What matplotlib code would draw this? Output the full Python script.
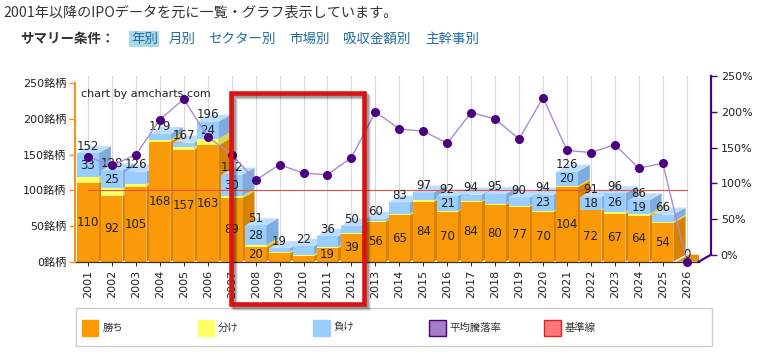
import matplotlib
matplotlib.use("Agg")
import matplotlib.pyplot as plt
from matplotlib.patches import Polygon, Rectangle
from matplotlib.lines import Line2D

# ---------------- data ----------------
years = ["2001", "2002", "2003", "2004", "2005", "2006", "2007", "2008", "2009",
         "2010", "2011", "2012", "2013", "2014", "2015", "2016", "2017", "2018",
         "2019", "2020", "2021", "2022", "2023", "2024", "2025", "2026"]
win = [110, 92, 105, 168, 157, 163, 89, 20, 12, 8, 19, 39, 56, 65, 84, 70, 84,
       80, 77, 70, 104, 72, 67, 64, 54, 0]
draw = [9, 11, 4, 3, 4, 9, 3, 3, 2, 2, 2, 1, 1, 2, 2, 1, 1, 1, 1, 1, 2, 1, 3, 3, 2, 0]
lose = [33, 25, 17, 8, 6, 24, 30, 28, 5, 12, 15, 10, 3, 16, 11, 21, 9, 14, 12,
        23, 20, 18, 26, 19, 10, 0]
avg_return = [147, 135, 150, 199, 228, 175, 150, 114, 136, 124, 122, 146, 210,
              186, 183, 166, 209, 200, 172, 230, 156, 153, 164, 131, 138, 0]
baseline = 100
left_ticks = [0, 50, 100, 150, 200, 250]
legend_labels = ["勝ち", "分け", "負け", "平均騰落率", "基準線"]
header = "2001年以降のIPOデータを元に一覧・グラフ表示しています。"
cond_label = "サマリー条件："
cond_links = ["年別", "月別", "セクター別", "市場別", "吸収金額別", "主幹事別"]

# ---------------- style ----------------
plt.rcParams["font.family"] = ["DejaVu Sans", "Noto Sans CJK JP"]
JP = ["Noto Sans CJK JP", "DejaVu Sans"]

W, H = 773, 356
fig = plt.figure(figsize=(W / 100, H / 100), dpi=100)
fig.patch.set_facecolor("white")


def fx(x):
    return x / W


def fy(y):
    return 1 - y / H


# front plane geometry (pixels)
L, R, B, T = 76, 698.7, 261.7, 83.3
DXP, DYP = 12.3, 7.0
ax = fig.add_axes([fx(L), fy(B), (R - L) / W, (B - T) / H])
n = len(years)
ax.set_xlim(-0.5, n - 0.5)
ax.set_ylim(0, 250)
ax.patch.set_alpha(0)

ppc = (R - L) / n
ppu = (B - T) / 250
DX = DXP / ppc
DY = DYP / ppu
bw = 0.88

# vertical grid on back wall
for i in range(n):
    ax.plot([i, i], [0, 250 + DY], color="#D8D8D8", lw=0.8, zorder=0.5,
            clip_on=False)

cols = [  # front, side, top
    ("#FA9A08", "#D98200", "#FFB84D"),
    ("#FFFF66", "#D6D655", "#FFFF99"),
    ("#99CCFF", "#7EADDD", "#BCDDFB"),
]

for i in range(n):
    segs = [win[i], draw[i], lose[i]]
    x0, x1 = i - bw / 2, i + bw / 2
    bottom = 0
    parts = []
    for k, v in enumerate(segs):
        parts.append((bottom, bottom + v, k))
        bottom += v
    # side faces
    for y0, y1, k in parts:
        if y1 > y0:
            ax.add_patch(Polygon([(x1, y0), (x1 + DX, y0 + DY), (x1 + DX, y1 + DY), (x1, y1)],
                                 closed=True, fc=cols[k][1], ec="none", zorder=2))
    # front faces
    for y0, y1, k in parts:
        if y1 > y0:
            ax.add_patch(Rectangle((x0, y0), bw, y1 - y0, fc=cols[k][0], ec="none", zorder=2))
    # top face
    top = bottom
    ktop = 0
    for y0, y1, k in parts:
        if y1 > y0:
            ktop = k
    tcol = cols[ktop][2] if top > 0 else "#E39010"
    ax.add_patch(Polygon([(x0, top), (x1, top), (x1 + DX, top + DY), (x0 + DX, top + DY)],
                         closed=True, fc=tcol, ec="none", zorder=2))

# labels
for i in range(n):
    total = win[i] + draw[i] + lose[i]
    if win[i] >= 18:
        ax.text(i, win[i] / 2, str(win[i]), ha="center", va="center",
                fontsize=8.5, color="#222222", zorder=5)
    if lose[i] >= 18:
        lb = win[i] + draw[i]
        ax.text(i, lb + lose[i] / 2, str(lose[i]), ha="center", va="center",
                fontsize=8.5, color="#222222", zorder=5)
    ax.text(i, total + DY, str(total), ha="center", va="center",
            fontsize=8.5, color="#222222", zorder=5, clip_on=False)

# baseline
ax.plot([0, n - 1], [baseline, baseline], color="#E8504A", lw=0.8, zorder=4)

# average return line
ax.plot(range(n), avg_return, color="#A98BD3", lw=1, zorder=6, clip_on=False)
ax.plot(range(n), avg_return, ls="none", marker="o", ms=5.5, mfc="#4B0082",
        mec="#4B0082", zorder=7, clip_on=False)

# axes styling
for s in ["top", "right"]:
    ax.spines[s].set_visible(False)
ax.spines["left"].set_color("#F7931E")
ax.spines["left"].set_linewidth(1.5)
ax.spines["left"].set_position(("outward", 1))
ax.spines["bottom"].set_color("#333333")
ax.spines["bottom"].set_linewidth(0.9)
ax.set_yticks(left_ticks)
ax.set_yticklabels([f"{v}銘柄" for v in left_ticks])
ax.tick_params(axis="y", colors="#F7931E", length=4, width=1, labelsize=8,
               labelcolor="#222222", pad=2)
ax.set_xticks(range(n))
ax.set_xticklabels(years, rotation=90)
ax.tick_params(axis="x", colors="#333333", length=3, width=0.8, labelsize=8,
               labelcolor="#222222", pad=3)

# right (percent) axis on the back plane
ax2 = fig.add_axes([fx(L + DXP), fy(B - DYP), (R - L) / W, (B - T) / H])
ax2.set_xlim(-0.5, n - 0.5)
ax2.set_ylim(0, 250)
ax2.patch.set_alpha(0)
for s in ["top", "left", "bottom"]:
    ax2.spines[s].set_visible(False)
ax2.spines["right"].set_color("#4B0082")
ax2.spines["right"].set_linewidth(1.6)
ax2.set_xticks([])
ax2.yaxis.tick_right()
ax2.set_yticks(left_ticks)
ax2.set_yticklabels([f"{v}%" for v in left_ticks])
ax2.tick_params(axis="y", colors="#4B0082", length=4, width=1, labelsize=8,
                labelcolor="#222222", pad=3)
fig.add_artist(Line2D([fx(R), fx(R + DXP)], [fy(B), fy(B - DYP)],
                      transform=fig.transFigure, color="#4B0082", lw=1.6))

ax.text(0.008, 0.94, "chart by amcharts.com", transform=ax.transAxes,
        fontsize=8, color="#222222", ha="left", va="center", zorder=8)

# header texts
fig.text(fx(3), fy(12), header, family=JP, fontsize=10.2, color="#333333",
         ha="left", va="center")
fig.text(fx(20), fy(38.5), cond_label, family=JP, fontsize=9.7, color="#333333",
         fontweight="bold", ha="left", va="center")
link_x = [131, 169, 208, 289, 343, 425]
fig.add_artist(Rectangle((fx(129.3), fy(46.7)), 30 / W, 16 / H,
                         transform=fig.transFigure, fc="#A8D8EA", ec="none"))
for t, x in zip(cond_links, link_x):
    fig.text(fx(x), fy(38.5), t, family=JP, fontsize=9.7, color="#1F6E9C",
             ha="left", va="center")

# legend box
fig.add_artist(Rectangle((fx(76), fy(345.7)), (711.7 - 76) / W, (345.7 - 308.3) / H,
                         transform=fig.transFigure, fc="white", ec="#CCCCCC", lw=1))
leg_fc = ["#FF9900", "#FFFF66", "#99CCFF", "#A57FC5", "#FF7777"]
leg_ec = ["#FF9900", "#FFFF66", "#99CCFF", "#4B0082", "#DD2222"]
leg_x = [81.7, 197.7, 313.3, 429.3, 544.0]
for lab, fc, ec, x in zip(legend_labels, leg_fc, leg_ec, leg_x):
    fig.add_artist(Rectangle((fx(x), fy(335.5)), 16.5 / W, 16 / H,
                             transform=fig.transFigure, fc=fc, ec=ec, lw=1))
    fig.text(fx(x + 20.5), fy(327.5), lab, family=JP, fontsize=7.5,
             color="#333333", ha="left", va="center")

# red highlight box with shadow
bx0, by0, bx1, by1 = 230.7, 92.8, 364.2, 304.2
for off, a in [(4, 0.10), (3, 0.15), (2, 0.2)]:
    fig.add_artist(Rectangle((fx(bx0 + off), fy(by1 + off)), (bx1 - bx0) / W, (by1 - by0) / H,
                             transform=fig.transFigure, fc="none", ec="#000000",
                             lw=3.3, alpha=a))
fig.add_artist(Rectangle((fx(bx0), fy(by1)), (bx1 - bx0) / W, (by1 - by0) / H,
                         transform=fig.transFigure, fc="none", ec="#DD1111", lw=3.3))

fig.savefig("out.png", dpi=100)
